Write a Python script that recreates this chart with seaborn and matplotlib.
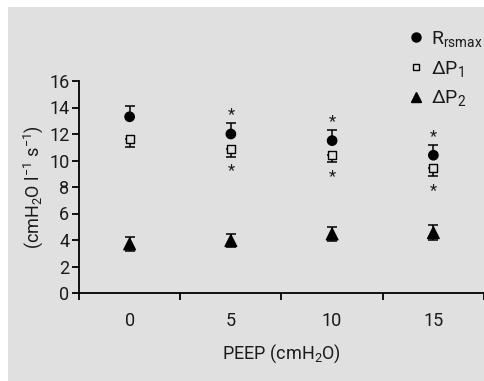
import numpy as np
import pandas as pd
import seaborn as sns
import matplotlib.pyplot as plt
from matplotlib.patches import Rectangle
from matplotlib.lines import Line2D

# Values
peep = ['0', '5', '10', '15']
rrs_mean = [13.3, 12.0, 11.5, 10.4]
rrs_err = [0.8, 0.85, 0.8, 0.8]
dp1_mean = [11.6, 10.9, 10.4, 9.4]
dp1_err = [0.55, 0.6, 0.55, 0.6]
dp2_mean = [3.7, 3.95, 4.45, 4.55]
dp2_err = [0.5, 0.5, 0.55, 0.55]
significant = [False, True, True, True]

labels = [r'$\mathregular{R_{rsmax}}$', r'$\mathregular{\Delta P_1}$', r'$\mathregular{\Delta P_2}$']

sns.set_style('ticks')
plt.rcParams['font.family'] = ['Roboto', 'DejaVu Sans']
plt.rcParams['text.color'] = '#1a1a1a'
plt.rcParams['xtick.color'] = 'black'
plt.rcParams['ytick.color'] = 'black'
plt.rcParams['xtick.labelcolor'] = '#1a1a1a'
plt.rcParams['ytick.labelcolor'] = '#1a1a1a'
plt.rcParams['axes.labelcolor'] = '#1a1a1a'
plt.rcParams['mathtext.fontset'] = 'custom'
plt.rcParams['mathtext.rm'] = 'Roboto'
plt.rcParams['mathtext.it'] = 'Roboto'

fs = 13
grey = '#e0e0e0'
fig = plt.figure(figsize=(4.85, 3.81), dpi=100, facecolor='white')
fig.patches.append(Rectangle((8 / 485, 0), 1, 1 - 7 / 381, transform=fig.transFigure,
                             facecolor=grey, edgecolor='none', zorder=-10))
ax = fig.add_axes([79 / 485, 1 - 293 / 381, 405 / 485, 212 / 381])
ax.set_facecolor(grey)

xpos = np.arange(len(peep))
df = pd.DataFrame({
    'x': np.tile(xpos, 3),
    'y': rrs_mean + dp1_mean + dp2_mean,
    'series': np.repeat(labels, len(peep)),
})

# error bars: Rrsmax upward, dP1 downward, dP2 both
ekw = dict(fmt='none', ecolor='black', elinewidth=1.1, capsize=3.5, capthick=1.1, zorder=2)
ax.errorbar(xpos, rrs_mean, yerr=[np.zeros(4), rrs_err], **ekw)
ax.errorbar(xpos, dp1_mean, yerr=[dp1_err, np.zeros(4)], **ekw)
ax.errorbar(xpos, dp2_mean, yerr=dp2_err, **ekw)

sns.scatterplot(data=df, x='x', y='y', style='series', hue='series',
                markers={labels[0]: 'o', labels[1]: 's', labels[2]: '^'},
                palette={labels[0]: 'black', labels[1]: grey, labels[2]: 'black'},
                size='series', sizes={labels[0]: 45, labels[1]: 34, labels[2]: 70},
                edgecolor='black', linewidth=1.0, legend=False, zorder=3, ax=ax)

# significance stars
for i, sig in enumerate(significant):
    if sig:
        ax.annotate('*', xy=(xpos[i], rrs_mean[i] + rrs_err[i]), xytext=(0, 6),
                    textcoords='offset points', ha='center', va='center', fontsize=12)
        ax.annotate('*', xy=(xpos[i], dp1_mean[i] - dp1_err[i]), xytext=(0, -10),
                    textcoords='offset points', ha='center', va='center', fontsize=12)

ax.set_xlim(-0.5, 3.5)
ax.set_ylim(0, 16)
ax.set_yticks(range(0, 17, 2))
ax.set_xticks(np.arange(-0.5, 4, 1))
ax.set_xticklabels([])
ax.set_xticks(xpos, minor=True)
ax.set_xticklabels(peep, minor=True)
ax.tick_params(axis='x', which='minor', length=0, pad=14, labelsize=fs)
ax.tick_params(axis='x', which='major', length=5, width=1.3, direction='out')
ax.tick_params(axis='y', length=5, width=1.3, direction='out', labelsize=fs, pad=2)
for s in ['top', 'right']:
    ax.spines[s].set_visible(False)
for s in ['left', 'bottom']:
    ax.spines[s].set_linewidth(1.3)
    ax.spines[s].set_color('black')

ax.set_xlabel(r'PEEP (cmH$_2$O)', fontsize=fs, labelpad=9)
ax.set_ylabel(r'(cmH$_2$O l$^{-1}$ s$^{-1}$)', fontsize=fs, labelpad=3)

handles = [
    Line2D([], [], marker='o', ls='none', color='black', markersize=6.5),
    Line2D([], [], marker='s', ls='none', markerfacecolor=grey, markeredgecolor='black', markersize=5),
    Line2D([], [], marker='^', ls='none', color='black', markersize=7.5),
]
fig.legend(handles, labels, loc='upper left', bbox_to_anchor=(409 / 485, 1 - 29 / 381),
           frameon=False, fontsize=14, handlelength=0.7, handletextpad=0.45,
           labelspacing=0.5, borderpad=0, borderaxespad=0)

fig.savefig('out.png', dpi=100, facecolor='white')
